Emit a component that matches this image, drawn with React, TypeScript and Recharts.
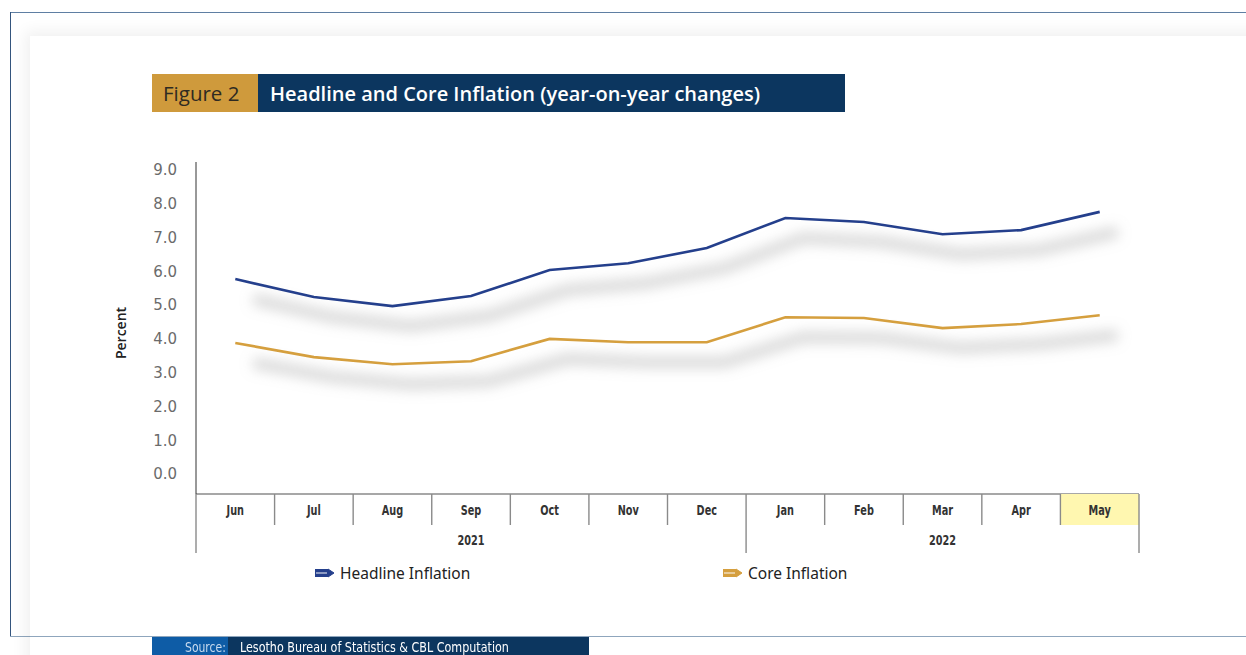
import React from "react";
import { LineChart, Line, XAxis, YAxis, Legend } from "recharts";

const months = ["Jun", "Jul", "Aug", "Sep", "Oct", "Nov", "Dec", "Jan", "Feb", "Mar", "Apr", "May"];
const years = ["2021", "2021", "2021", "2021", "2021", "2021", "2021", "2022", "2022", "2022", "2022", "2022"];
const headline = [5.77, 5.24, 4.97, 5.27, 6.04, 6.24, 6.69, 7.58, 7.46, 7.1, 7.22, 7.76];
const core = [3.88, 3.46, 3.25, 3.34, 4.0, 3.9, 3.9, 4.64, 4.62, 4.32, 4.44, 4.7];
const yTicks = [0, 1, 2, 3, 4, 5, 6, 7, 8, 9];
const highlightMonth = "May";

const data = months.map((m, i) => ({ month: m, year: years[i], headline: headline[i], core: core[i] }));

const W = 1246;
const H = 655;
const MARGIN = { top: 162, right: 107, bottom: 101, left: 136 };
const Y_AXIS_W = 60;
const X_AXIS_H = 60;
const PLOT_W = W - MARGIN.left - MARGIN.right - Y_AXIS_W;
const BAND = PLOT_W / months.length;

const NAVY = "#0c365f";
const GOLD = "#cf9a3c";
const HEAD_COLOR = "#243f8c";
const CORE_COLOR = "#d59f3e";
const NARROW = "'Liberation Sans Narrow', 'DejaVu Sans Condensed', sans-serif";

// condensed bold label, squeezed horizontally around its centre
function NarrowText({ x, y, children }: { x: number; y: number; children: React.ReactNode }) {
  return (
    <text
      transform={`translate(${x} ${y}) scale(0.8 1)`}
      textAnchor="middle"
      fontFamily={NARROW}
      fontWeight="bold"
      fontSize={13.5}
      fill="#333"
    >
      {children}
    </text>
  );
}

function MonthTick(props: any) {
  const { x, y, payload } = props;
  const i = payload.index;
  const left = x - BAND / 2;
  const right = x + BAND / 2;
  const groupStart = i === 0 || years[i] !== years[i - 1];
  const isLast = i === months.length - 1;
  let yearLabel = null;
  if (groupStart) {
    let last = i;
    while (last + 1 < years.length && years[last + 1] === years[i]) last++;
    const cx = x + ((last - i) / 2) * BAND;
    yearLabel = <NarrowText x={cx} y={y + 51}>{years[i]}</NarrowText>;
  }
  return (
    <g>
      {payload.value === highlightMonth && (
        <rect x={left} y={y} width={BAND} height={31} fill="#fff7b0" />
      )}
      <line x1={left} x2={left} y1={y} y2={y + (groupStart ? 59 : 31)} stroke="#8a8a8a" strokeWidth={1.4} />
      {isLast && <line x1={right} x2={right} y1={y} y2={y + 59} stroke="#8a8a8a" strokeWidth={1.4} />}
      <NarrowText x={x} y={y + 21}>{payload.value}</NarrowText>
      {yearLabel}
    </g>
  );
}

function LegendIcon({ color }: { color: string }) {
  return (
    <svg width={22} height={12} style={{ marginRight: 4 }}>
      <path d="M1 2 H14 L20 6 L14 10 H1 Z" fill={color} />
      <path d="M14 2 L20 6 L14 10" fill="none" stroke={color} strokeWidth={1} />
      <line x1={2} x2={13} y1={6} y2={6} stroke="#fff" strokeWidth={1.2} opacity={0.8} />
    </svg>
  );
}

function renderLegend() {
  const items = [
    { label: "Headline Inflation", color: HEAD_COLOR, left: 314 },
    { label: "Core Inflation", color: CORE_COLOR, left: 722 },
  ];
  return (
    <div style={{ position: "relative", width: W, height: 24 }}>
      {items.map((it) => (
        <div
          key={it.label}
          style={{
            position: "absolute",
            left: it.left,
            top: 0,
            display: "flex",
            alignItems: "center",
            fontFamily: "'Noto Sans', sans-serif",
            fontSize: 15.5,
            color: "#222",
          }}
        >
          <LegendIcon color={it.color} />
          {it.label}
        </div>
      ))}
    </div>
  );
}

export default function App() {
  return (
    <div style={{ position: "absolute", left: 0, top: 0, width: W, height: H, overflow: "hidden", background: "#fff" }}>
      <svg width={0} height={0} style={{ position: "absolute" }}>
        <defs>
          <filter id="lineShadow" filterUnits="userSpaceOnUse" x={0} y={0} width={W} height={H}>
            <feOffset dx={18} dy={20} />
            <feGaussianBlur stdDeviation={6.5} />
          </filter>
        </defs>
      </svg>

      {/* frame */}
      <div style={{ position: "absolute", left: 10, top: 12, width: W - 10, height: 1, background: "#5f7fa3" }} />
      <div style={{ position: "absolute", left: 10, top: 12, width: 1, height: 625, background: "#34557e" }} />
      <div style={{ position: "absolute", left: 10, top: 636, width: W - 10, height: 1, background: "#8fa6bd" }} />
      <div
        style={{
          position: "absolute",
          left: 30,
          top: 36,
          width: W,
          height: 640,
          boxShadow: "0 0 14px 5px rgba(0,0,0,0.06)",
        }}
      />

      {/* title */}
      <div style={{ position: "absolute", left: 152, top: 74, width: 106, height: 38, background: GOLD, display: "flex", alignItems: "center" }}>
        <span style={{ marginLeft: 11, fontFamily: "'Open Sans', sans-serif", fontSize: 20.5, color: "#2e2a22" }}>Figure 2</span>
      </div>
      <div style={{ position: "absolute", left: 258, top: 74, width: 587, height: 38, background: NAVY, display: "flex", alignItems: "center" }}>
        <span style={{ marginLeft: 12, fontFamily: "'Open Sans', sans-serif", fontWeight: 600, fontSize: 20, color: "#fff" }}>
          Headline and Core Inflation (year-on-year changes)
        </span>
      </div>

      {/* source */}
      <div style={{ position: "absolute", left: 152, top: 637, width: 76, height: 18, background: "#0e5ca6" }} />
      <div style={{ position: "absolute", left: 228, top: 637, width: 361, height: 18, background: NAVY }} />
      <div style={{ position: "absolute", left: 185, top: 637, fontFamily: NARROW, fontSize: 14, color: "#c9dbef", lineHeight: "20px", transform: "scaleX(0.86)", transformOrigin: "left center" }}>Source:</div>
      <div style={{ position: "absolute", left: 240, top: 637, fontFamily: NARROW, fontSize: 14, color: "#fff", lineHeight: "20px", whiteSpace: "nowrap", transform: "scaleX(0.885)", transformOrigin: "left center" }}>
        Lesotho Bureau of Statistics &amp; CBL Computation
      </div>

      {/* y label */}
      <div
        style={{
          position: "absolute",
          left: 120,
          top: 333,
          transform: "translate(-50%, -50%) rotate(-90deg)",
          fontFamily: "'Open Sans', sans-serif",
          fontWeight: 600,
          fontSize: 14,
          color: "#222",
          whiteSpace: "nowrap",
        }}
      >
        Percent
      </div>

      <div style={{ position: "absolute", left: 0, top: 0 }}>
        <LineChart width={W} height={H} data={data} margin={MARGIN}>
          <XAxis
            dataKey="month"
            height={X_AXIS_H}
            padding={{ left: BAND / 2, right: BAND / 2 }}
            axisLine={{ stroke: "#8a8a8a", strokeWidth: 1.4 }}
            tickLine={false}
            tickSize={0}
            tickMargin={0}
            interval={0}
            tick={<MonthTick />}
          />
          <YAxis
            width={Y_AXIS_W}
            domain={[-0.592, 9.237]}
            ticks={yTicks}
            tickFormatter={(v: number) => v.toFixed(1)}
            axisLine={{ stroke: "#333", strokeWidth: 1 }}
            tickLine={false}
            tickSize={0}
            tickMargin={19}
            tick={{ fill: "#6b6b6b", fontSize: 15, fontFamily: "'DejaVu Sans', sans-serif" }}
            allowDataOverflow
          />
          <Legend
            content={renderLegend}
            verticalAlign="middle"
            wrapperStyle={{ left: 0, top: 562, width: W, height: 24 }}
          />
          <Line dataKey="headline" stroke="#a0a0a0" strokeWidth={11} strokeOpacity={0.42} dot={false} activeDot={false} legendType="none" filter="url(#lineShadow)" isAnimationActive={false} />
          <Line dataKey="core" stroke="#a0a0a0" strokeWidth={11} strokeOpacity={0.42} dot={false} activeDot={false} legendType="none" filter="url(#lineShadow)" isAnimationActive={false} />
          <Line dataKey="headline" name="Headline Inflation" stroke={HEAD_COLOR} strokeWidth={2.6} dot={false} activeDot={false} isAnimationActive={false} />
          <Line dataKey="core" name="Core Inflation" stroke={CORE_COLOR} strokeWidth={2.6} dot={false} activeDot={false} isAnimationActive={false} />
        </LineChart>
      </div>
    </div>
  );
}
